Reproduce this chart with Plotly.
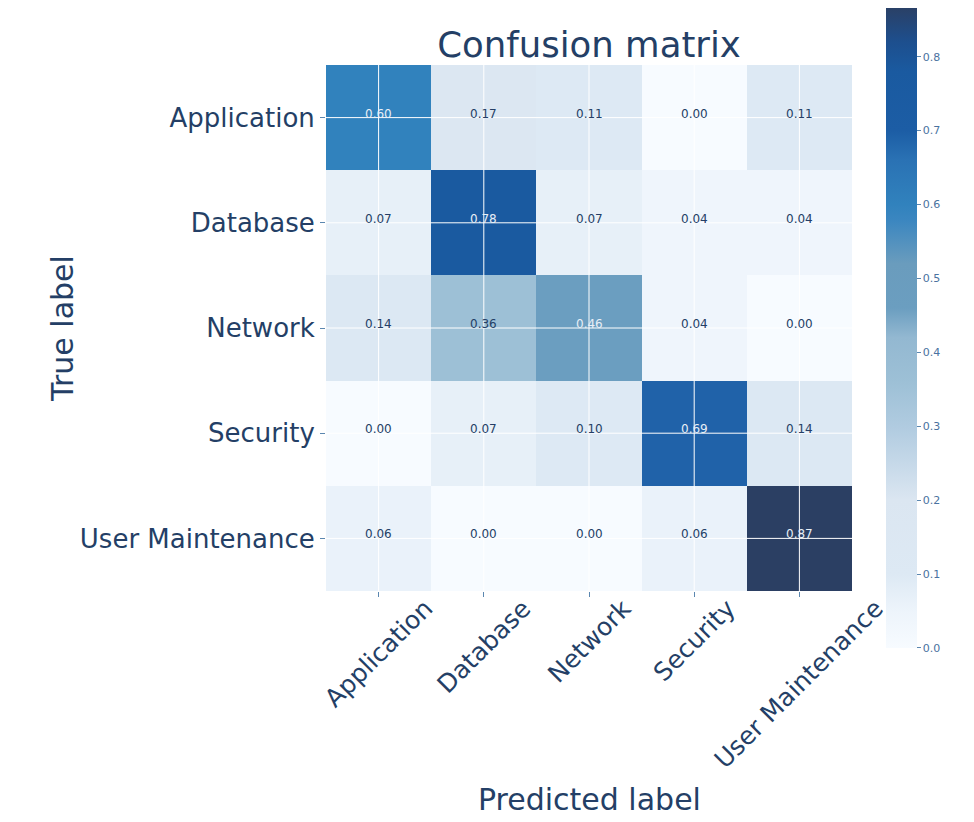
import plotly.graph_objects as go

categories = ["Application", "Database", "Network", "Security", "User Maintenance"]
values = [
    [0.60, 0.17, 0.11, 0.00, 0.11],
    [0.07, 0.78, 0.07, 0.04, 0.04],
    [0.14, 0.36, 0.46, 0.04, 0.00],
    [0.00, 0.07, 0.10, 0.69, 0.14],
    [0.06, 0.00, 0.00, 0.06, 0.87],
]
cbar_ticks = [0.0, 0.1, 0.2, 0.3, 0.4, 0.5, 0.6, 0.7, 0.8]

zmax = 0.87
stops = [
    (0.00, "#f7fbff"),
    (0.05, "#edf4fb"),
    (0.10, "#dde9f4"),
    (0.20, "#dbe6f1"),
    (0.30, "#b0cbe0"),
    (0.36, "#9dc0d6"),
    (0.42, "#93b8d1"),
    (0.46, "#6b9ec0"),
    (0.52, "#6a9cbd"),
    (0.58, "#3a86c0"),
    (0.60, "#3182bd"),
    (0.66, "#2a72b4"),
    (0.70, "#1c5da5"),
    (0.78, "#1a5aa0"),
    (0.82, "#1d4f8e"),
    (0.87, "#2b3f63"),
]
colorscale = [[v / zmax, c] for v, c in stops]

text_dark = "#243f66"
text_light = "#e8eef6"
fnt = "DejaVu Sans"
n = len(categories)

fig = go.Figure(
    go.Heatmap(
        z=values,
        x=categories,
        y=categories,
        zmin=0,
        zmax=zmax,
        colorscale=colorscale,
        showscale=True,
        colorbar=dict(
            thickness=31,
            lenmode="pixels",
            len=643,
            y=0.503,
            yanchor="middle",
            x=1.0646,
            xanchor="left",
            xpad=0,
            ypad=0,
            outlinewidth=0,
            tickvals=cbar_ticks,
            ticktext=[f"{t:.1f}" for t in cbar_ticks],
            ticks="outside",
            ticklen=4,
            tickcolor="#5b87b0",
            tickfont=dict(family=fnt, size=11, color="#4a72a0"),
        ),
        hoverongaps=False,
    )
)

for i, row in enumerate(values):
    for j, v in enumerate(row):
        fig.add_annotation(
            x=categories[j], y=categories[i], text=f"{v:.2f}", showarrow=False,
            yshift=4,
            font=dict(family=fnt, size=12, color=text_light if v >= 0.45 else text_dark),
        )

# rotated x tick labels, centred under each tick (matplotlib style)
for c in categories:
    fig.add_annotation(
        x=c, xref="x", y=0, yref="paper", text=c, showarrow=False,
        textangle=-45, xanchor="center", yanchor="top", yshift=0,
        font=dict(family=fnt, size=25, color=text_dark),
    )

# axis titles
fig.add_annotation(x=0.5, xref="paper", y=-0.397, yref="paper", text="Predicted label",
                   showarrow=False, xanchor="center", yanchor="middle",
                   font=dict(family=fnt, size=30, color=text_dark))
fig.add_annotation(x=-0.502, xref="paper", y=0.5, yref="paper", text="True label",
                   showarrow=False, xanchor="center", yanchor="middle", textangle=-90,
                   font=dict(family=fnt, size=30, color=text_dark))

for c in categories:
    fig.add_shape(type="line", xref="x", yref="paper", x0=c, x1=c, y0=0, y1=1,
                  line=dict(color="white", width=1), layer="above")
    fig.add_shape(type="line", xref="paper", yref="y", x0=0, x1=1, y0=c, y1=c,
                  line=dict(color="white", width=1), layer="above")

fig.update_layout(
    width=974,
    height=822,
    margin=dict(l=318, r=130, t=57, b=239, autoexpand=False),
    paper_bgcolor="white",
    plot_bgcolor="white",
    title=dict(text="Confusion matrix", x=0.5, xref="paper", xanchor="center",
               y=1 - 37 / 822, yanchor="middle", yref="container",
               font=dict(family=fnt, size=35.5, color=text_dark)),
    font=dict(family=fnt, color=text_dark),
    xaxis=dict(
        range=[-0.5, n - 0.5], autorange=False,
        showticklabels=False,
        ticks="outside", ticklen=5, tickcolor="#5b87b0",
        showgrid=False, zeroline=False, showline=False, automargin=False,
    ),
    yaxis=dict(
        range=[n - 0.5, -0.5], autorange=False,
        tickfont=dict(family=fnt, size=26, color=text_dark),
        ticks="outside", ticklen=5, tickcolor="#5b87b0",
        ticklabelstandoff=0,
        showgrid=False, zeroline=False, showline=False, automargin=False,
    ),
)

fig.write_html("out.html")
